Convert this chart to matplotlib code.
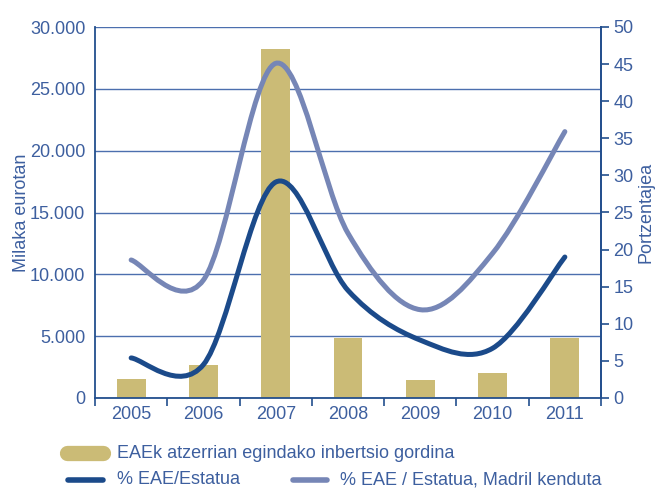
import numpy as np
import matplotlib
matplotlib.use('Agg')
import matplotlib.pyplot as plt
from matplotlib.path import Path
from matplotlib.patches import PathPatch
from matplotlib.lines import Line2D

# data ########################################################################
years = ['2005', '2006', '2007', '2008', '2009', '2010', '2011']
investment = [1550, 2650, 28200, 4850, 1450, 2000, 4850]        # thousand euro
pct_state = [5.4, 4.5, 29.1, 14.5, 7.8, 6.7, 19.0]              # %
pct_no_madrid = [18.6, 15.9, 45.1, 22.2, 11.9, 19.5, 35.9]      # %

labels = ['EAEk atzerrian egindako inbertsio gordina',
          '% EAE/Estatua',
          '% EAE / Estatua, Madril kenduta']

# colours
TXT = '#3d5f9f'
AXC = '#234f8e'
GRID = '#4c6fae'
BAR = '#cbbb76'
DARK = '#1b4a8a'
LIGHT = '#7686b6'

plt.rcParams['font.family'] = ['Liberation Sans', 'DejaVu Sans']


def smooth_path(x, y):
    '''Excel-like smoothed line: cubic bezier through every point.'''
    pts = np.column_stack([x, y]).astype(float)
    n = len(pts)
    verts = [pts[0]]
    codes = [Path.MOVETO]
    for i in range(n - 1):
        p0 = pts[i - 1] if i > 0 else pts[i]
        p1 = pts[i]
        p2 = pts[i + 1]
        p3 = pts[i + 2] if i + 2 < n else pts[i + 1]
        c1 = p1 + (p2 - p0) / 6.0
        c2 = p2 - (p3 - p1) / 6.0
        verts += [c1, c2, p2]
        codes += [Path.CURVE4] * 3
    return Path(verts, codes)


fig = plt.figure(figsize=(6.56, 4.88), dpi=100)
ax = fig.add_axes([95 / 656, 90 / 488, 506 / 656, 371 / 488])
ax2 = ax.twinx()

x = np.arange(len(years))
ax.bar(x, investment, width=0.4, color=BAR, zorder=2)

ax.set_xlim(-0.5, len(years) - 0.5)
ax.set_ylim(0, 30000)
ax.set_yticks(np.arange(0, 30001, 5000))
ax.set_yticklabels(['0', '5.000', '10.000', '15.000', '20.000', '25.000', '30.000'])
ax.yaxis.grid(True, color=GRID, lw=1.0, zorder=0)
ax.set_axisbelow(True)
ax.tick_params(axis='y', length=0, pad=7, labelsize=13, labelcolor=TXT)
ax.set_xticks(x)
ax.set_xticklabels(years)
ax.set_xticks(np.arange(-0.5, len(years), 1.0), minor=True)
ax.tick_params(axis='x', which='major', length=0, pad=6, labelsize=13, labelcolor=TXT)
ax.tick_params(axis='x', which='minor', length=6, width=1.2, color=AXC, direction='out')
ax.set_ylabel('Milaka eurotan', fontsize=13, color=TXT, labelpad=0)

for s in ['left', 'bottom', 'right']:
    ax.spines[s].set_color(AXC)
    ax.spines[s].set_linewidth(1.3)
ax.spines['top'].set_visible(False)

ax2.set_ylim(0, 50)
ax2.set_yticks(np.arange(0, 51, 5))
ax2.tick_params(axis='y', length=6, width=1.2, color=AXC, direction='out',
                labelsize=13, labelcolor=TXT, pad=3)
ax2.set_ylabel('Portzentajea', fontsize=13, color=TXT, labelpad=3)
for s in ['left', 'bottom', 'top']:
    ax2.spines[s].set_visible(False)
ax2.spines['right'].set_color(AXC)
ax2.spines['right'].set_linewidth(1.3)

ax2.add_patch(PathPatch(smooth_path(x, pct_no_madrid), fill=False, ec=LIGHT,
                        lw=3.6, capstyle='round', zorder=3))
ax2.add_patch(PathPatch(smooth_path(x, pct_state), fill=False, ec=DARK,
                        lw=3.6, capstyle='round', zorder=4))

# legend (drawn by hand in figure pixels)
def fx(px):
    return px / 656


def fy(py):
    return 1 - py / 488


fig.add_artist(Line2D([fx(67), fx(103)], [fy(453), fy(453)], lw=11,
                      color=BAR, solid_capstyle='round'))
fig.text(fx(117), fy(453), labels[0], fontsize=13, color=TXT, va='center')
fig.add_artist(Line2D([fx(68), fx(103)], [fy(480), fy(480)], lw=4,
                      color=DARK, solid_capstyle='round'))
fig.text(fx(117), fy(480), labels[1], fontsize=13, color=TXT, va='center')
fig.add_artist(Line2D([fx(293), fx(327)], [fy(480), fy(480)], lw=4,
                      color=LIGHT, solid_capstyle='round'))
fig.text(fx(340), fy(480), labels[2], fontsize=13, color=TXT, va='center')

fig.savefig('out.png', dpi=100)
